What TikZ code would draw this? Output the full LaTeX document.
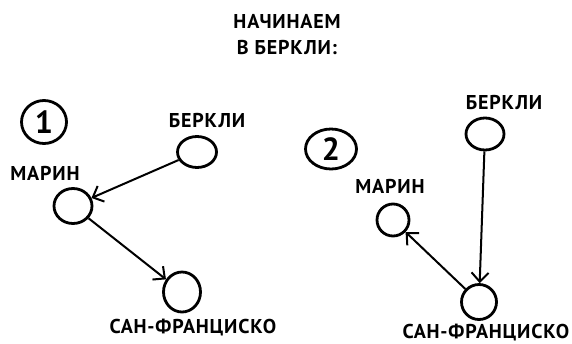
\documentclass[tikz,border=0pt]{standalone}
\usepackage{fontspec}
\setmainfont{PT Sans}
\newfontfamily\handfont[LetterSpace=4]{PT Sans}
\usetikzlibrary{arrows.meta,shapes.geometric}
\begin{document}
\begin{tikzpicture}[x=1pt,y=-1pt,
  city/.style={draw,line width=2.8pt,ellipse,inner sep=0pt},
  lbl/.style={font=\handfont\fontsize{20}{20}\selectfont\bfseries},
  num/.style={draw,line width=2.8pt,ellipse,inner sep=0pt,font=\fontsize{32}{32}\selectfont\bfseries},
  conn/.style={line width=2pt,-{Straight Barb[length=9pt,width=17pt,line width=2pt]}}]
\useasboundingbox (0,0) rectangle (572,343);
% title
\node[lbl] (t1) at (287,21) {НАЧИНАЕМ};
\node[lbl] (t2) at (287,48) {В БЕРКЛИ:};
% diagram 1
\node[num,minimum width=45pt,minimum height=43pt] (n1) at (44,122) {1};
\node[lbl] (lb1) at (207,120) {БЕРКЛИ};
\node[city,minimum width=39pt,minimum height=31pt] (b1) at (197,152) {};
\node[lbl] (lm1) at (45,173) {МАРИН};
\node[city,minimum width=38pt,minimum height=35pt] (m1) at (73,206) {};
\node[city,minimum width=37pt,minimum height=40pt] (s1) at (182,292) {};
\node[lbl] (ls1) at (193,328) {САН-ФРАНЦИСКО};
\draw[conn] (b1) -- (m1);
\draw[conn] (m1) -- (s1);
% diagram 2
\node[num,minimum width=51pt,minimum height=40pt] (n2) at (331,149) {2};
\node[lbl] (lb2) at (504,102) {БЕРКЛИ};
\node[city,minimum width=38pt,minimum height=32pt] (b2) at (485,134) {};
\node[lbl] (lm2) at (390,186) {МАРИН};
\node[city,minimum width=32pt,minimum height=32pt] (m2) at (393,220) {};
\node[city,minimum width=35pt,minimum height=35pt] (s2) at (479,302) {};
\node[lbl] (ls2) at (486,333) {САН-ФРАНЦИСКО};
\draw[conn] (b2) -- (s2);
\draw[conn] (s2) -- (m2);
\end{tikzpicture}
\end{document}
